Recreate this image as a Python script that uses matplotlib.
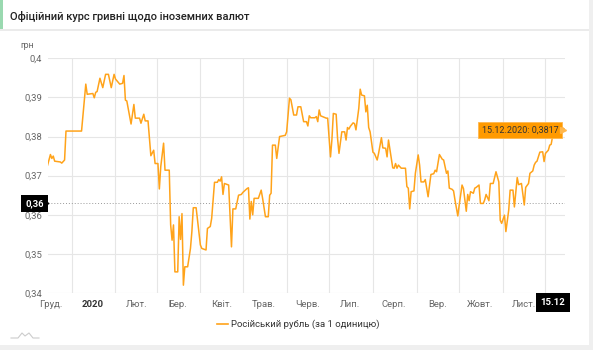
import matplotlib
matplotlib.use("Agg")
import matplotlib.pyplot as plt
import matplotlib.transforms as mtransforms
from matplotlib.lines import Line2D
from matplotlib.patches import Rectangle
import pandas as pd

plt.rcParams["font.family"] = ["Roboto", "DejaVu Sans"]

# official UAH rate for 1 RUB, days counted from the first date
START = pd.Timestamp("2019-12-15")
END = pd.Timestamp("2020-12-15")

day_offset = [
    0, 2, 3, 4, 5, 9, 10, 12, 13, 24, 27, 28, 32, 33, 34, 35, 37, 39, 41, 43,
    45, 47, 48, 51, 53, 54, 55, 56, 59, 61, 62, 65, 66, 68, 69, 71, 73, 75, 76, 78,
    79, 80, 82, 83, 86, 87, 88, 89, 90, 92, 93, 94, 95, 96, 97, 99, 101, 102, 103, 105,
    108, 109, 112, 113, 115, 116, 118, 120, 121, 122, 123, 124, 125, 128, 130, 131, 133, 135, 137, 138,
    141, 142, 143, 144, 145, 146, 149, 151, 152, 154, 156, 157, 158, 159, 161, 162, 164, 168, 169, 171,
    172, 174, 176, 177, 179, 181, 183, 184, 185, 186, 189, 190, 191, 192, 193, 197, 198, 200, 201, 202,
    204, 205, 206, 208, 210, 211, 212, 213, 214, 216, 217, 218, 220, 221, 222, 224, 225, 226, 227, 228,
    230, 231, 233, 234, 236, 237, 239, 240, 241, 243, 244, 245, 246, 247, 248, 250, 253, 254, 255, 256,
    257, 259, 260, 262, 263, 264, 266, 267, 269, 271, 273, 274, 275, 277, 279, 280, 282, 283, 284, 286,
    287, 288, 290, 291, 293, 294, 296, 297, 298, 299, 301, 302, 303, 305, 306, 308, 309, 310, 312, 313,
    315, 317, 319, 320, 321, 323, 324, 326, 327, 329, 330, 332, 333, 335, 337, 338, 340, 341, 343, 344,
    345, 346, 348, 350, 351, 352, 354, 355, 356, 357, 359, 360, 366,
]
rub_rate = [
    0.3727, 0.3754, 0.3744, 0.3750, 0.3737, 0.3735, 0.3732, 0.3740, 0.3814, 0.3814,
    0.3934, 0.3908, 0.3910, 0.3899, 0.3913, 0.3915, 0.3949, 0.3925, 0.3959, 0.3959,
    0.3925, 0.3959, 0.3947, 0.3934, 0.3936, 0.3956, 0.3893, 0.3891, 0.3832, 0.3882,
    0.3847, 0.3847, 0.3834, 0.3857, 0.3840, 0.3840, 0.3751, 0.3765, 0.3731, 0.3731,
    0.3666, 0.3723, 0.3783, 0.3714, 0.3714, 0.3574, 0.3535, 0.3574, 0.3454, 0.3454,
    0.3595, 0.3537, 0.3603, 0.3420, 0.3467, 0.3467, 0.3514, 0.3557, 0.3618, 0.3618,
    0.3523, 0.3514, 0.3510, 0.3565, 0.3570, 0.3591, 0.3683, 0.3683, 0.3690, 0.3686,
    0.3697, 0.3652, 0.3680, 0.3676, 0.3518, 0.3615, 0.3615, 0.3650, 0.3652, 0.3657,
    0.3667, 0.3669, 0.3589, 0.3634, 0.3600, 0.3642, 0.3642, 0.3663, 0.3642, 0.3595,
    0.3595, 0.3650, 0.3655, 0.3778, 0.3778, 0.3744, 0.3800, 0.3803, 0.3812, 0.3898,
    0.3894, 0.3855, 0.3855, 0.3876, 0.3876, 0.3838, 0.3838, 0.3827, 0.3853, 0.3848,
    0.3848, 0.3851, 0.3838, 0.3868, 0.3853, 0.3847, 0.3847, 0.3748, 0.3792, 0.3859,
    0.3857, 0.3795, 0.3757, 0.3812, 0.3812, 0.3791, 0.3823, 0.3819, 0.3826, 0.3835,
    0.3833, 0.3817, 0.3872, 0.3921, 0.3906, 0.3904, 0.3863, 0.3880, 0.3823, 0.3812,
    0.3760, 0.3757, 0.3740, 0.3757, 0.3797, 0.3771, 0.3770, 0.3748, 0.3791, 0.3744,
    0.3720, 0.3719, 0.3731, 0.3719, 0.3727, 0.3719, 0.3719, 0.3672, 0.3668, 0.3615,
    0.3659, 0.3661, 0.3706, 0.3753, 0.3727, 0.3684, 0.3684, 0.3690, 0.3646, 0.3703,
    0.3705, 0.3714, 0.3710, 0.3754, 0.3742, 0.3740, 0.3706, 0.3712, 0.3668, 0.3665,
    0.3661, 0.3638, 0.3597, 0.3625, 0.3676, 0.3667, 0.3609, 0.3652, 0.3636, 0.3659,
    0.3655, 0.3668, 0.3670, 0.3676, 0.3629, 0.3629, 0.3638, 0.3652, 0.3636, 0.3680,
    0.3680, 0.3710, 0.3684, 0.3586, 0.3578, 0.3599, 0.3557, 0.3612, 0.3663, 0.3663,
    0.3620, 0.3695, 0.3677, 0.3680, 0.3625, 0.3670, 0.3680, 0.3706, 0.3712, 0.3727,
    0.3734, 0.3737, 0.3760, 0.3761, 0.3736, 0.3757, 0.3765, 0.3778, 0.3780, 0.3800,
    0.3803, 0.3834, 0.3817,
]

month_labels = ["Груд.", "2020", "Лют.", "Бер.", "Квіт.", "Трав.", "Черв.",
                "Лип.", "Серп.", "Вер.", "Жовт.", "Лист."]
y_ticks = [0.34, 0.35, 0.36, 0.37, 0.38, 0.39, 0.40]
y_tick_labels = ["0,34", "0,35", "0,36", "0,37", "0,38", "0,39", "0,4"]
cursor_value = 0.3629
series_name = "Російський рубль (за 1 одиницю)"
title = "Офіційний курс гривні щодо іноземних валют"

LINE = "#ffa31a"
GRID = "#e6e6e6"
TEXT = "#666666"

W, H = 593, 350
fig = plt.figure(figsize=(W / 100, H / 100), dpi=100)
fig.patch.set_facecolor("white")


def px(x, y):
    return x / W, 1 - y / H


# page chrome: header, separator, side strips
fig.add_artist(Rectangle(px(0, 29), 2.5 / W, 29 / H, transform=fig.transFigure,
                         color="#9ad9b0", lw=0))
fig.add_artist(Rectangle(px(0, 31), 590 / W, 2 / H, transform=fig.transFigure,
                         color="#ebebeb", lw=0))
fig.add_artist(Rectangle(px(589, 350), 4 / W, 1, transform=fig.transFigure,
                         color="#efefef", lw=0))
fig.add_artist(Rectangle(px(0, 350), 1, 5 / H, transform=fig.transFigure,
                         color="#efefef", lw=0))
fig.text(*px(10, 16), title, fontsize=8, fontweight="medium", color="#222222",
         va="center", ha="left")

ax = fig.add_axes([47.6 / W, 1 - 293 / H, (565.3 - 47.6) / W, (293 - 58.3) / H])
dates = [START + pd.Timedelta(days=d) for d in day_offset]
ax.plot(dates, rub_rate, color=LINE, lw=1.1, zorder=3, solid_joinstyle="round")

ax.set_xlim(START, END)
ax.set_ylim(y_ticks[0], y_ticks[-1])
for s in ax.spines.values():
    s.set_visible(False)

month_starts = pd.date_range("2020-01-01", "2020-12-01", freq="MS")
mid_month = [pd.Timestamp("2019-12-17")] + [pd.Timestamp(2020, m, 16) for m in range(1, 12)]
ax.set_xticks(month_starts)
ax.set_xticklabels([])
ax.set_xticks(mid_month, minor=True)
ax.set_xticklabels(month_labels, minor=True)
ax.tick_params(axis="x", which="both", length=0)
ax.tick_params(axis="x", which="minor", pad=5, labelsize=6.8, labelcolor=TEXT)
for lab in ax.get_xticklabels(minor=True):
    if lab.get_text() == "2020":
        lab.set_fontweight("bold")
        lab.set_color("#333333")

ax.set_yticks(y_ticks)
ax.set_yticklabels(y_tick_labels)
ax.tick_params(axis="y", length=0, pad=4, labelsize=6.8, labelcolor=TEXT)
ax.grid(True, which="major", color=GRID, lw=0.8)
ax.set_axisbelow(True)
fig.text(*px(27, 45), "грн", fontsize=6.3, color=TEXT, ha="center", va="center")

# crosshair and its labels
ax.axhline(cursor_value, color="#9a9a9a", lw=0.7, ls=(0, (1, 2)), zorder=2)
ax.axvline(END, color="#bdbdbd", lw=0.7, ls=(0, (1, 2)), zorder=2)
yblend = mtransforms.blended_transform_factory(ax.transAxes, ax.transData)
ax.text(-0.007, cursor_value, f"{cursor_value:.2f}".replace(".", ","),
        transform=yblend, ha="right", va="center", fontsize=6.8, color="white",
        fontweight="bold", bbox=dict(boxstyle="square,pad=0.45", fc="black", ec="none"),
        clip_on=False, zorder=6)
ax.plot([-0.004], [cursor_value], marker=">", ms=3.5, color="black",
        transform=yblend, clip_on=False, zorder=6)

xblend = mtransforms.blended_transform_factory(ax.transData, ax.transAxes)
ax.text(END, -0.022, END.strftime("%d.%m"), transform=xblend, ha="right", va="top",
        fontsize=6.8, color="white", fontweight="bold",
        bbox=dict(boxstyle="square,pad=0.5", fc="black", ec="none"),
        clip_on=False, zorder=6)

# tooltip on the last point
last_val = rub_rate[-1]
tip = f"{END:%d.%m.%Y}: " + f"{last_val:.4f}".replace(".", ",")
ax.annotate(tip, xy=(END, last_val), xytext=(-7, 0), textcoords="offset pixels",
            ha="right", va="center", fontsize=6.5, color="#333333",
            bbox=dict(boxstyle="square,pad=0.4", fc="#ff9a00", ec="#ffb74d", lw=0.6),
            annotation_clip=False, zorder=7)
ax.plot([END], [last_val], marker=">", ms=4, color="#ffb74d", clip_on=False, zorder=7,
        transform=mtransforms.offset_copy(ax.transData, fig, x=-2, y=0, units="dots"))

# legend under the plot
fig.add_artist(Line2D([217 / W, 228 / W], [1 - 324 / H, 1 - 324 / H],
                      transform=fig.transFigure, color=LINE, lw=1.2))
fig.text(*px(231, 324), series_name, fontsize=6.8, color="#333333",
         ha="left", va="center")

# small logo outline in the corner
fig.add_artist(Line2D([11 / W, 18 / W, 22 / W, 25 / W, 29 / W, 33 / W, 39 / W],
                      [1 - 338 / H, 1 - 338 / H, 1 - 333 / H, 1 - 336 / H,
                       1 - 333 / H, 1 - 338 / H, 1 - 338 / H],
                      transform=fig.transFigure, color="#cccccc", lw=0.8))

fig.savefig("out.png", dpi=100)
